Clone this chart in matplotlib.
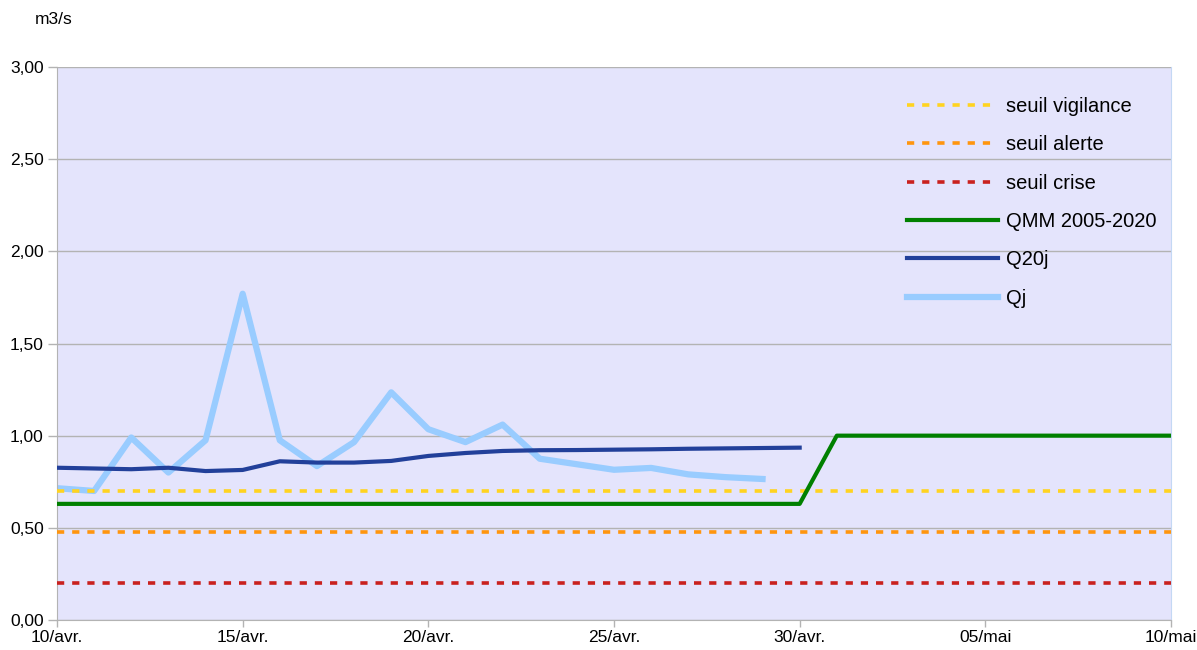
import matplotlib
matplotlib.use("Agg")
import matplotlib.pyplot as plt

plt.rcParams['font.family'] = ['Liberation Sans', 'DejaVu Sans']

# Days since 10 April
days_all = list(range(0, 31))
tick_days = [0, 5, 10, 15, 20, 25, 30]
tick_labels = ["10/avr.", "15/avr.", "20/avr.", "25/avr.", "30/avr.", "05/mai", "10/mai"]

seuil_vigilance = 0.70
seuil_alerte = 0.48
seuil_crise = 0.20

qmm_values = [0.63] * 21 + [1.00] * 10

q20j_days = list(range(0, 21))
q20j_values = [0.826, 0.822, 0.818, 0.826, 0.808, 0.814, 0.861, 0.854, 0.854, 0.863,
               0.890, 0.906, 0.917, 0.921, 0.922, 0.924, 0.926, 0.929, 0.931, 0.933, 0.935]

qj_days = list(range(0, 20))
qj_values = [0.715, 0.700, 0.990, 0.800, 0.975, 1.770, 0.975, 0.835, 0.965, 1.235,
             1.035, 0.965, 1.060, 0.875, 0.845, 0.815, 0.825, 0.790, 0.775, 0.765]

W, H = 1197, 650
fig = plt.figure(figsize=(W / 100, H / 100), dpi=100)
ax = fig.add_axes([57 / W, 30 / H, 1114 / W, 553 / H])
ax.set_facecolor('#e4e4fc')

FS = 12.5
LFS = 14.5
dash = (0, (2, 2.2))
ax.plot([days_all[0], days_all[-1]], [seuil_vigilance] * 2, color='#ffd320', lw=2.6,
        linestyle=dash, label='seuil vigilance', zorder=4)
ax.plot([days_all[0], days_all[-1]], [seuil_alerte] * 2, color='#ff950e', lw=2.6,
        linestyle=dash, label='seuil alerte', zorder=4)
ax.plot([days_all[0], days_all[-1]], [seuil_crise] * 2, color='#c9211e', lw=2.6,
        linestyle=dash, label='seuil crise', zorder=4)
ax.plot(days_all, qmm_values, color='#008000', lw=3, label='QMM 2005-2020', zorder=4)
ax.plot(q20j_days, q20j_values, color='#22409a', lw=3, label='Q20j', zorder=3)
ax.plot(qj_days, qj_values, color='#99ccff', lw=4.5, label='Qj', zorder=2)

ax.set_xlim(0, 30)
ax.set_ylim(0, 3)
ax.set_xticks(tick_days)
ax.set_xticklabels(tick_labels)
yt = [0, 0.5, 1.0, 1.5, 2.0, 2.5, 3.0]
ax.set_yticks(yt)
ax.set_yticklabels([f"{v:.2f}".replace('.', ',') for v in yt])
ax.yaxis.grid(True, color='#b3b3b3', lw=1)
ax.set_axisbelow(True)
ax.tick_params(axis='y', length=6.5, width=1, color='#b3b3b3', pad=3, labelsize=FS)
ax.tick_params(axis='x', length=5, width=1, color='#b3b3b3', pad=2, labelsize=FS)
ax.spines['top'].set_visible(False)
ax.spines['right'].set_color('#c4d8f4')
ax.spines['left'].set_color('#b3b3b3')
ax.spines['bottom'].set_color('#b3b3b3')

fig.text(54 / W, 1 - 20 / H, 'm3/s', ha='center', va='center', fontsize=FS)

leg = ax.legend(loc='upper left', bbox_to_anchor=((907 - 57) / 1114, (620 - 97) / 553),
                frameon=False, fontsize=LFS, handlelength=4.5, handletextpad=0.4,
                labelspacing=0.96, borderpad=0, borderaxespad=0)

fig.savefig('out.png', dpi=100)
